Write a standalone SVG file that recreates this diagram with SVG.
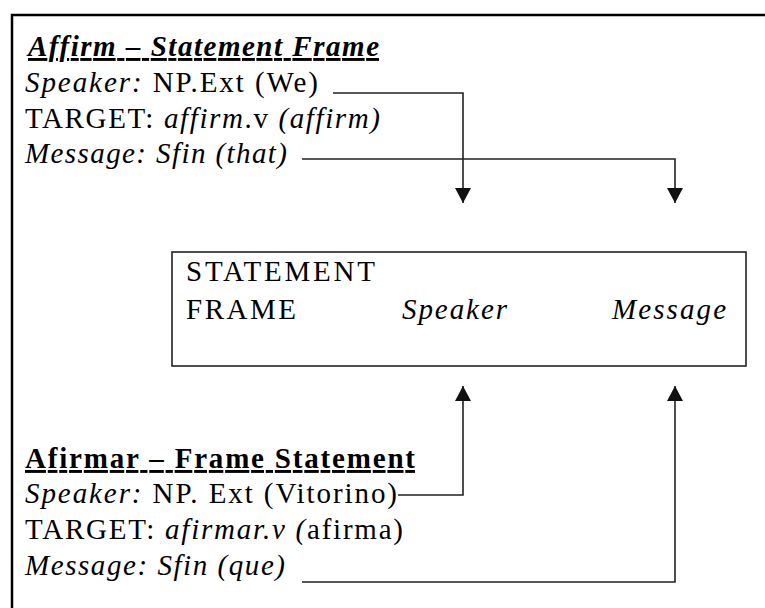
<svg xmlns="http://www.w3.org/2000/svg" width="765" height="608" viewBox="0 0 765 608">
<style>
text{font-family:"Liberation Serif","Times New Roman",serif;font-size:29px;fill:#000}
.i{font-style:italic}
.b{font-weight:bold}
.u{text-decoration:underline}
.conn{fill:none;stroke:#222;stroke-width:1.6}
.frame{fill:none;stroke:#000;stroke-width:2.5}
</style>
<defs>
<marker id="arr" markerUnits="userSpaceOnUse" markerWidth="15" markerHeight="16" refX="15" refY="8" orient="auto" viewBox="0 0 15 16">
<path d="M0,0 L15,8 L0,16 Z" fill="#111"/>
</marker>
</defs>
<rect width="765" height="608" fill="#fff"/>
<path class="frame" d="M765,15 H12 V608"/>
<g id="affirm-frame">
<text x="28" y="56" class="b i u" textLength="351" lengthAdjust="spacing">Affirm – Statement Frame</text>
<text x="25" y="92" textLength="293" lengthAdjust="spacing"><tspan class="i">Speaker:</tspan> NP.Ext (We)</text>
<text x="25" y="128" textLength="355" lengthAdjust="spacing">TARGET: <tspan class="i">affirm</tspan>.v <tspan class="i">(affirm)</tspan></text>
<text x="25" y="163" class="i" textLength="262" lengthAdjust="spacing">Message: Sfin (that)</text>
</g>
<g id="statement-frame">
<rect x="172" y="252" width="574" height="114" fill="none" stroke="#222" stroke-width="1.6"/>
<text x="186" y="281" textLength="189" lengthAdjust="spacing">STATEMENT</text>
<text x="186" y="319" textLength="110" lengthAdjust="spacing">FRAME</text>
<text x="402" y="319" class="i" textLength="105" lengthAdjust="spacing">Speaker</text>
<text x="612" y="319" class="i" textLength="114" lengthAdjust="spacing">Message</text>
</g>
<g id="afirmar-frame">
<text x="25" y="468" class="b u" textLength="390" lengthAdjust="spacing">Afirmar – Frame Statement</text>
<text x="25" y="503" textLength="372" lengthAdjust="spacing"><tspan class="i">Speaker:</tspan> NP. Ext (Vitorino)</text>
<text x="25" y="539" textLength="378" lengthAdjust="spacing">TARGET: <tspan class="i">afirmar.v (</tspan>afirma)</text>
<text x="25" y="575" class="i" textLength="260" lengthAdjust="spacing">Message: Sfin (que)</text>
</g>
<g id="connectors">
<path class="conn" d="M333,93 H463 V203" marker-end="url(#arr)"/>
<path class="conn" d="M302,159 H675 V203" marker-end="url(#arr)"/>
<path class="conn" d="M398,495 H463 V386" marker-end="url(#arr)"/>
<path class="conn" d="M302,582 H675 V386" marker-end="url(#arr)"/>
</g>
</svg>
